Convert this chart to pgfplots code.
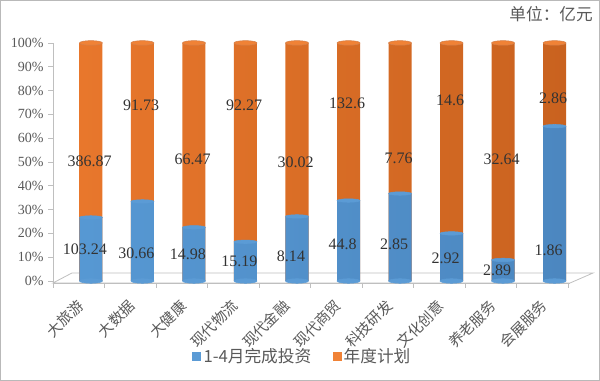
\documentclass[border=0pt]{standalone}
\usepackage{pgfplots}
\pgfplotsset{compat=1.18}
\usepackage{pgfplotstable}
\usepackage{fontspec}
\setmainfont{Liberation Serif}
\newfontfamily\cjk{Noto Sans CJK SC}
\definecolor{obar}{HTML}{F08236}
\definecolor{oleft}{HTML}{E8772C}
\definecolor{omid}{HTML}{F8954B}
\definecolor{oright}{HTML}{C9621F}
\definecolor{bbar}{HTML}{5B9BD5}
\definecolor{bleft}{HTML}{5698D3}
\definecolor{bmid}{HTML}{63A3DC}
\definecolor{bright}{HTML}{4C87C0}
\definecolor{txt}{HTML}{595959}
\definecolor{floorc}{HTML}{BFBFBF}

% pa = completed / plan in percent, full = 100 (plan), ya/yb = label heights
\pgfplotstableread{
x pa full ya yb la lb
0 26.69 100 13.3 50.1 103.24 386.87
1 33.42 100 11.6 73.9 30.66 91.73
2 22.54 100 11.3 51.1 14.98 66.47
3 16.46 100 8.1 73.7 15.19 92.27
4 27.12 100 10.5 49.7 8.14 30.02
5 33.79 100 15.5 74.7 44.8 132.6
6 36.73 100 15.5 51.6 2.85 7.76
7 20.00 100 9.5 76.1 2.92 14.6
8 8.85 100 4.6 51.1 2.89 32.64
9 65.03 100 13.0 76.8 1.86 2.86
}\data

\begin{document}
\begin{tikzpicture}
\draw[gray!55, line width=0.6pt] (-39.4pt,-73.1pt) rectangle (409.9pt,211.9pt);
\draw[floorc, line width=0.6pt] (0pt,0pt) -- (387.75pt,0pt) -- (405pt,7.5pt) -- (14.25pt,7.5pt) -- cycle;
\node[anchor=east, text=txt, font=\cjk\fontsize{12.5}{14}\selectfont, inner sep=0pt] at (405pt,201.75pt) {单位：亿元};
\begin{axis}[
  at={(0pt,0pt)}, anchor=south west, scale only axis,
  width=387.75pt, height=180pt,
  xmin=-0.7379, xmax=9.301, ymin=-0.84, ymax=100,
  axis lines*=left,
  axis line style={floorc, line width=0.6pt},
  tick align=outside,
  tick style={floorc, line width=0.6pt},
  major tick length=3.5pt,
  /pgf/number format/assume math mode=true,
  ytick={0,10,...,100},
  yticklabel={\pgfmathprintnumber{\tick}\%},
  yticklabel style={font=\fontsize{10.5}{12}\selectfont, text=txt},
  xtick={-0.738,0.262,1.262,2.262,3.262,4.262,5.262,6.262,7.262,8.262,9.262},
  xticklabels={},
  extra x ticks={-0.238,0.762,1.762,2.762,3.762,4.762,5.762,6.762,7.762,8.762},
  extra x tick labels={大旅游,大数据,大健康,现代物流,现代金融,现代商贸,科技研发,文化创意,养老服务,会展服务},
  extra x tick style={major tick length=0pt, grid=none,
    xticklabel style={rotate=45, anchor=north east, font=\cjk\fontsize{11}{13}\selectfont, text=txt, inner sep=0.5pt, xshift=-9pt, yshift=-6pt}},
  clip=false,
  legend style={draw=none, fill=none, legend columns=2, at={(0.483,-0.304)}, anchor=center,
    font=\cjk\fontsize{12.5}{14}\selectfont, text=txt,
    /tikz/every even column/.append style={column sep=14pt}},
]
% orange (annual plan) cylinders
\addplot[ybar, bar width=17.25pt, bar shift=0pt, draw=none,
  left color=oleft, middle color=omid, right color=oright, forget plot]
  table[x=x, y=full]{\data};
% blue bottom caps
\addplot[only marks, color=bbar, mark=*, mark size=8.6pt,
  mark options={yscale=0.2, fill=bbar, draw=bbar}, forget plot]
  table[x=x, y expr=0]{\data};
% blue (completed) cylinders
\addplot[ybar, bar width=17.25pt, bar shift=0pt, draw=none,
  left color=bleft, middle color=bmid, right color=bright, forget plot]
  table[x=x, y=pa]{\data};
\addplot[only marks, color=bbar, mark=*, mark size=8.6pt,
  mark options={yscale=0.15, fill=bbar, draw=bbar}, forget plot]
  table[x=x, y=pa]{\data};
% orange top caps
\addplot[only marks, color=oright, mark=*, mark size=8.6pt,
  mark options={yscale=0.2, fill=obar, draw=oright!80, line width=0.4pt}, forget plot]
  table[x=x, y=full]{\data};
% value labels
\addplot[draw=none, mark=none, nodes near coords, point meta=explicit symbolic,
  every node near coord/.style={anchor=center, font=\fontsize{12}{14}\selectfont, text=black!80, xshift=-4.5pt},
  forget plot]
  table[x=x, y=ya, meta=la]{\data};
\addplot[draw=none, mark=none, nodes near coords, point meta=explicit symbolic,
  every node near coord/.style={anchor=center, font=\fontsize{12}{14}\selectfont, text=black!80, xshift=-1pt},
  forget plot]
  table[x=x, y=yb, meta=lb]{\data};
\addlegendimage{legend image code/.code={\fill[bbar] (0pt,-3pt) rectangle (6pt,3pt);}}
\addlegendentry{1-4月完成投资}
\addlegendimage{legend image code/.code={\fill[obar] (0pt,-3pt) rectangle (6pt,3pt);}}
\addlegendentry{年度计划}
\end{axis}
\end{tikzpicture}
\end{document}
